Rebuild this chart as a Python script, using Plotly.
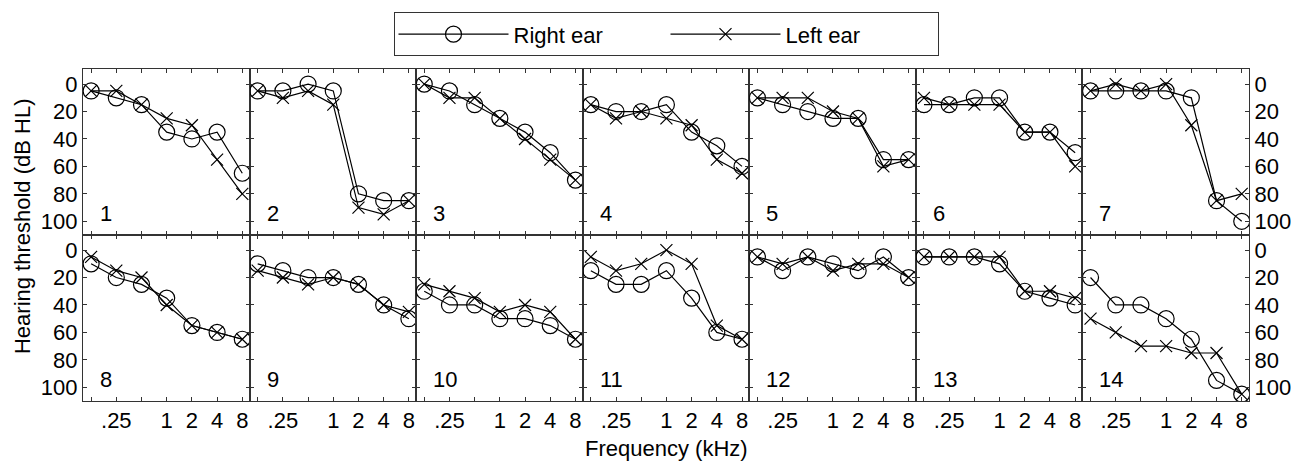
import plotly.graph_objects as go

FREQS = [0.125, 0.25, 0.5, 1, 2, 4, 8]
FREQ_TICK_TEXT = ["", ".25", "", "1", "2", "4", "8"]
DB_TICKS = [0, 20, 40, 60, 80, 100]
PANELS = list(range(1, 15))

RIGHT_EAR = [
    [5, 10, 15, 35, 40, 35, 65],
    [5, 5, 0, 5, 80, 85, 85],
    [0, 5, 15, 25, 35, 50, 70],
    [15, 20, 20, 15, 35, 45, 60],
    [10, 15, 20, 25, 25, 55, 55],
    [15, 15, 10, 10, 35, 35, 50],
    [5, 5, 5, 5, 10, 85, 100],
    [10, 20, 25, 35, 55, 60, 65],
    [10, 15, 20, 20, 25, 40, 50],
    [30, 40, 40, 50, 50, 55, 65],
    [15, 25, 25, 15, 35, 60, 65],
    [5, 15, 5, 10, 15, 5, 20],
    [5, 5, 5, 10, 30, 35, 40],
    [20, 40, 40, 50, 65, 95, 105],
]
LEFT_EAR = [
    [5, 5, 15, 25, 30, 55, 80],
    [5, 10, 5, 15, 90, 95, 85],
    [0, 10, 10, 25, 40, 55, 70],
    [15, 25, 20, 25, 30, 55, 65],
    [10, 10, 10, 20, 25, 60, 55],
    [10, 15, 15, 15, 35, 35, 60],
    [5, 0, 5, 0, 30, 85, 80],
    [5, 15, 20, 40, 55, 60, 65],
    [15, 20, 25, 20, 25, 40, 45],
    [25, 30, 35, 45, 40, 45, 65],
    [5, 15, 10, 0, 10, 55, 65],
    [5, 10, 5, 15, 10, 10, 20],
    [5, 5, 5, 5, 30, 30, 35],
    [50, 60, 70, 70, 75, 75, 105],
]

FONT = "Liberation Sans, Arial, sans-serif"
FS = 22
NCOL = 7
fig = go.Figure()
layout = {}
annotations = []

for i, p in enumerate(PANELS):
    k = i + 1
    row, col = divmod(i, NCOL)
    xa = "x" if k == 1 else f"x{k}"
    ya = "y" if k == 1 else f"y{k}"
    fig.add_trace(go.Scatter(
        x=FREQS, y=RIGHT_EAR[i], xaxis=xa, yaxis=ya, mode="lines+markers",
        name="Right ear", legendgroup="r", showlegend=(k == 1),
        line=dict(color="black", width=1.2),
        marker=dict(symbol="circle-open", size=16, color="black", line=dict(width=1.2)),
    ))
    fig.add_trace(go.Scatter(
        x=FREQS, y=LEFT_EAR[i], xaxis=xa, yaxis=ya, mode="lines+markers",
        name="Left ear", legendgroup="l", showlegend=(k == 1),
        line=dict(color="black", width=1.2),
        marker=dict(symbol="x-thin-open", size=12, color="black", line=dict(width=1.2, color="black")),
    ))
    xd = [col / NCOL, (col + 1) / NCOL]
    yd = [0.5, 1.0] if row == 0 else [0.0, 0.5]
    xkey = "xaxis" if k == 1 else f"xaxis{k}"
    ykey = "yaxis" if k == 1 else f"yaxis{k}"
    layout[xkey] = dict(
        domain=xd, anchor=ya, type="log", range=[-1.0, 0.99],
        tickmode="array", tickvals=FREQS, ticktext=FREQ_TICK_TEXT,
        ticks="inside", ticklen=4, tickcolor="#333", mirror="ticks",
        showline=True, linecolor="#333", linewidth=1.1, showgrid=False, zeroline=False,
        showticklabels=(row == 1), tickfont=dict(family=FONT, size=FS, color="black"),
    )
    ydict = dict(
        domain=yd, anchor=xa, range=[110, -11],
        tickmode="array", tickvals=DB_TICKS,
        ticks="inside", ticklen=4, tickcolor="#333", mirror="ticks",
        showline=True, linecolor="#333", linewidth=1.1, showgrid=False, zeroline=False,
        tickfont=dict(family=FONT, size=FS, color="black"),
        showticklabels=(col == 0 or col == NCOL - 1),
    )
    if col == NCOL - 1:
        ydict["side"] = "right"
    layout[ykey] = ydict
    annotations.append(dict(
        text=str(p), xref=f"{xa} domain", yref=f"{ya} domain", x=0.09, y=0.13,
        xanchor="left", yanchor="middle", showarrow=False,
        font=dict(family=FONT, size=FS, color="black"),
    ))

annotations.append(dict(
    text="Hearing threshold (dB HL)", xref="paper", yref="paper", x=-0.0523, y=0.527,
    textangle=-90, showarrow=False, xanchor="center", yanchor="middle",
    font=dict(family=FONT, size=FS, color="black"),
))
annotations.append(dict(
    text="Frequency (kHz)", xref="paper", yref="paper", x=0.5, y=-0.144,
    showarrow=False, xanchor="center", yanchor="middle",
    font=dict(family=FONT, size=FS, color="black"),
))

fig.update_layout(
    width=1302, height=461,
    margin=dict(l=83, r=53, t=67, b=60),
    paper_bgcolor="white", plot_bgcolor="white",
    font=dict(family=FONT, size=FS, color="black"),
    annotations=annotations,
    legend=dict(
        orientation="h", x=0.5, xanchor="center", y=1.1707, yanchor="top",
        xref="paper", yref="paper",
        bordercolor="#333", borderwidth=1, itemwidth=110, entrywidth=147,
        font=dict(family=FONT, size=FS, color="black"),
    ),
    **layout,
)

fig.write_html("out.html", config={"displayModeBar": False},
               post_script="document.body.style.margin='0';")
